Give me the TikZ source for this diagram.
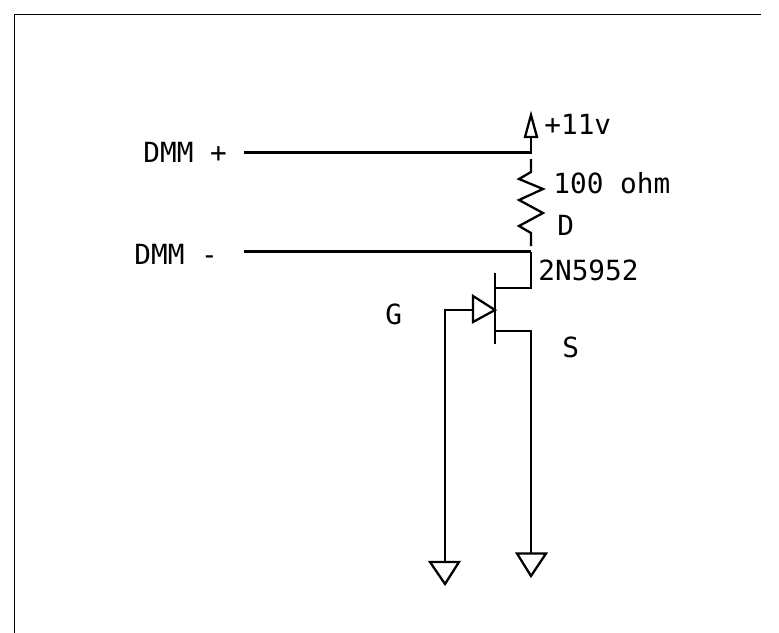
\documentclass[tikz,border=0pt]{standalone}
\usepackage{fontspec}
\setmonofont{DejaVu Sans Mono}
\usetikzlibrary{calc}
\tikzset{
	wire/.style={line width=1.3pt},
	framewire/.style={line width=1pt},
	lbl/.style={inner sep=0pt,font=\ttfamily\fontsize{15.8}{18}\selectfont}
}
\begin{document}
\begin{tikzpicture}[x=0.02cm,y=-0.02cm]
	\useasboundingbox (0,0) rectangle (779,633);
	\fill[white] (0,0) rectangle (779,633);
	% frame
	\coordinate (framea) at (14.5,633);
	\coordinate (frameb) at (14.5,14.5);
	\coordinate (framec) at (761,14.5);
	\draw[framewire] (framea) -- (frameb) -- (framec);
	% supply and resistor
	\coordinate (vcc) at (531,137);
	\coordinate (plus) at (244,152.5);
	\coordinate (plusj) at (531,152.5);
	\coordinate (rtop) at (531,159);
	\coordinate (rbot) at (531,246);
	\coordinate (minus) at (244,251.5);
	\coordinate (drain) at (531,251.5);
	\draw[wire] (vcc) -- (plusj) -- (plus);
	\draw[wire] (531,115) -- (537,137) -- (525,137) -- cycle;
	\draw[wire] (rtop) -- (531,172) -- (519,179) -- (543,189) -- (519,200) -- (543,213) -- (519,226) -- (531,233) -- (rbot);
	\draw[wire] (minus) -- (drain);
	% jfet
	\coordinate (dbar) at (495,288);
	\coordinate (sbar) at (495,331);
	\coordinate (sdown) at (531,331);
	\coordinate (sgnd) at (531,553.5);
	\coordinate (gate) at (473,310);
	\coordinate (gbend) at (445,310);
	\coordinate (ggnd) at (445,562);
	\draw[wire] (drain) -- (531,288) -- (dbar);
	\draw[wire] (495,273) -- (495,344);
	\draw[wire] (sbar) -- (sdown) -- (sgnd);
	\draw[wire] (gate) -- (gbend) -- (ggnd);
	\draw[wire] (473,296) -- (495,310) -- (473,322) -- cycle;
	% grounds
	\draw[wire] (517,553.5) -- (546,553.5) -- (531,576) -- cycle;
	\draw[wire] (430,562) -- (459,562) -- (445,584) -- cycle;
	% labels
	\node[lbl,anchor=west] (dmmp) at (143,152.5) {DMM +};
	\node[lbl,anchor=west] (dmmm) at (134,254.5) {DMM -};
	\node[lbl,anchor=west] (volt) at (544,124.5) {+11v};
	\node[lbl,anchor=west] (ohm) at (553,183.5) {100 ohm};
	\node[lbl,anchor=west] (dlbl) at (557,225.5) {D};
	\node[lbl,anchor=west] (part) at (538,270) {2N5952};
	\node[lbl,anchor=west] (glbl) at (385,314.5) {G};
	\node[lbl,anchor=west] (slbl) at (562,347) {S};
\end{tikzpicture}
\end{document}
